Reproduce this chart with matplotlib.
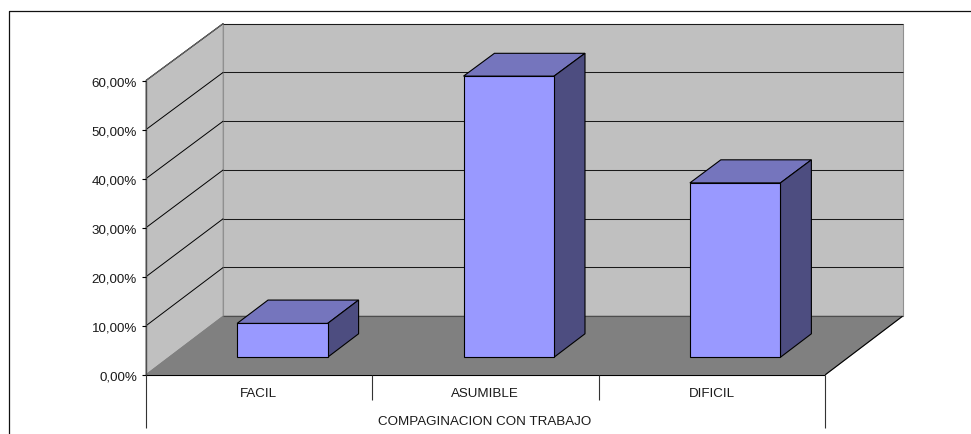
import matplotlib
matplotlib.use("Agg")
import matplotlib.pyplot as plt
from matplotlib.patches import Polygon

categories = ["FACIL", "ASUMIBLE", "DIFICIL"]
values = [6.9, 57.4, 35.6]
ticks = [0, 10, 20, 30, 40, 50, 60]
tick_labels = ["0,00%", "10,00%", "20,00%", "30,00%", "40,00%", "50,00%", "60,00%"]
axis_title = "COMPAGINACION CON TRABAJO"

W, H = 971, 435
X0, Y0 = 146.0, 375.8      # front-left origin, pixels from top-left
CAT_W = 226.4
SCALE_FRONT = 294.3 / 60
SCALE_BACK = 292.7 / 60
DX, DY = 77.3, -58.6       # depth offset
BAR_W = 0.40
D1, D2 = 0.30, 0.70


def P(c, v, d):
    s = SCALE_FRONT + d * (SCALE_BACK - SCALE_FRONT)
    return (X0 + c * CAT_W + d * DX, Y0 - v * s + d * DY)


plt.rcParams["font.family"] = ["Liberation Sans", "DejaVu Sans"]
fig = plt.figure(figsize=(W / 100, H / 100), dpi=100)
ax = fig.add_axes([0, 0, 1, 1])
ax.set_xlim(0, W)
ax.set_ylim(H, 0)
ax.axis("off")

n = len(categories)
vmax = ticks[-1]
WALL, FLOOR = "#c0c0c0", "#808080"
FRONT, TOP, SIDE = "#9999ff", "#7575bd", "#4d4d80"
LW = 0.8


def poly(pts, fc, ec="#000000", lw=LW, z=2):
    ax.add_patch(Polygon(pts, closed=True, facecolor=fc, edgecolor=ec, linewidth=lw,
                         joinstyle="miter", zorder=z))


def line(a, b, c="#000000", lw=LW, z=3):
    ax.plot([a[0], b[0]], [a[1], b[1]], color=c, lw=lw, zorder=z, solid_capstyle="butt")


# chart frame: only the left and top edges fall inside the picture
ax.plot([9.0, 9.0, 971], [435, 11.5, 11.5], color="#111111", lw=0.9, zorder=1)

# walls and floor
poly([P(0, 0, 0), P(0, vmax, 0), P(0, vmax, 1), P(0, 0, 1)], WALL, "#808080", LW, 1)
poly([P(0, 0, 1), P(0, vmax, 1), P(n, vmax, 1), P(n, 0, 1)], WALL, "#909090", LW, 1)
poly([P(0, 0, 0), P(0, 0, 1), P(n, 0, 1), P(n, 0, 0)], FLOOR, "#808080", LW, 1)
line(P(0, 0, 1), P(n, 0, 1), "#4d4d4d", LW, 1.5)
line(P(n, 0, 1), P(n, 0, 0), "#000000", LW, 1.5)

# gridlines
for t in ticks[1:]:
    line(P(0, t, 0), P(0, t, 1), "#000000", 0.7, 1.5)
    line(P(0, t, 1), P(n, t, 1), "#1a1a1a", 0.75, 1.5)

# bars
for i, v in enumerate(values):
    c1 = i + 0.5 - BAR_W / 2
    c2 = i + 0.5 + BAR_W / 2
    poly([P(c1, v, D1), P(c1, v, D2), P(c2, v, D2), P(c2, v, D1)], TOP)
    poly([P(c2, 0, D1), P(c2, v, D1), P(c2, v, D2), P(c2, 0, D2)], SIDE)
    poly([P(c1, 0, D1), P(c1, v, D1), P(c2, v, D1), P(c2, 0, D1)], FRONT)

# axes
line(P(0, 0, 0), P(0, vmax, 0), "#4d4d4d", 1.0, 4)
line(P(0, 0, 0), P(n, 0, 0), "#000000", LW, 4)
line(P(0, vmax, 0), P(0, vmax, 1), "#666666", LW, 4)

FS = 9.65
TC = "#1a1a1a"
for t, lab in zip(ticks, tick_labels):
    x, y = P(0, t, 0)
    line((x - 4, y), (x, y), "#000000", LW, 4)
    ax.text(x - 9, y + 1.7, lab, ha="right", va="center", fontsize=FS, color=TC)

# multi-level category axis
for k in range(n + 1):
    x, y = P(k, 0, 0)
    line((x, y), (x, y + (53.5 if k in (0, n) else 25.5)), "#333333", LW, 4)
for i, lab in enumerate(categories):
    x, y = P(i + 0.5, 0, 0)
    ax.text(x - 0.5, 393.7, lab, ha="center", va="center", fontsize=FS, color=TC)
x, _ = P(n / 2, 0, 0)
ax.text(x - 0.5, 421.7, axis_title, ha="center", va="center", fontsize=FS, color=TC)

fig.savefig("out.png", dpi=100)
